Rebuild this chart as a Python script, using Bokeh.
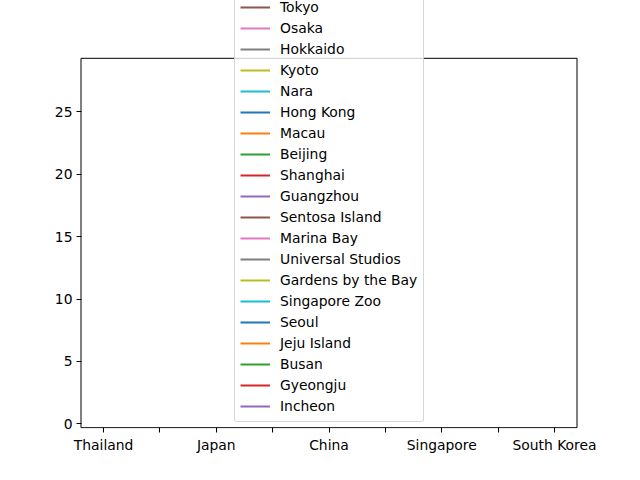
from bokeh.plotting import figure
from bokeh.models import Range1d, FixedTicker, BoxAnnotation
from bokeh.embed import file_html
from bokeh.resources import INLINE

# Countries on the x axis
countries = ["Thailand", "Japan", "China", "Singapore", "South Korea"]

# Places per country (each series has one value only, so no line is drawn)
thailand_places = ["Bangkok", "Phuket", "Chiang Mai", "Pattaya", "Krabi"]
japan_places = ["Tokyo", "Osaka", "Hokkaido", "Kyoto", "Nara"]
china_places = ["Hong Kong", "Macau", "Beijing", "Shanghai", "Guangzhou"]
singapore_places = ["Sentosa Island", "Marina Bay", "Universal Studios",
                    "Gardens by the Bay", "Singapore Zoo"]
korea_places = ["Seoul", "Jeju Island", "Busan", "Gyeongju", "Incheon"]

# Values (not visible in the reference: single points draw nothing)
thailand_values = [22.8, 9.9, 5.1, 9.4, 3.5]
japan_values = [15.2, 11.4, 3.2, 8.9, 2.4]
china_values = [27.9, 18.6, 3.8, 6.1, 8.6]
singapore_values = [19.0, 14.0, 4.5, 9.0, 1.7]
korea_values = [11.2, 1.1, 2.7, 1.5, 7.3]

y_ticks = [0, 5, 10, 15, 20, 25]

# axes limits of the visible box
x_lo, x_hi = -0.2, 4.2
y_lo, y_hi = -0.3, 29.27

tab10 = ["#1f77b4", "#ff7f0e", "#2ca02c", "#d62728", "#9467bd",
         "#8c564b", "#e377c2", "#7f7f7f", "#bcbd22", "#17becf"]

FONT = "DejaVu Sans"
FSIZE = "13.89px"

W, H = 632, 472
FL, FR, FB = 79, 578, 428          # frame edges (canvas px); frame top = 0
px_x = 496 / (x_hi - x_lo)
px_y = 12.492
xs = x_lo - 1.5 / px_x
xe = xs + (FR - FL) / px_x
ys = y_lo - (FB - 427.2) / px_y
ye = y_lo + 427.2 / px_y

p = figure(width=W, height=H, output_backend="svg", toolbar_location=None,
           x_range=Range1d(xs, xe), y_range=Range1d(ys, ye),
           min_border_left=FL, min_border_right=W - FR, min_border_top=0,
           min_border_bottom=H - FB)

groups = [thailand_places, japan_places, china_places, singapore_places, korea_places]
vals = [thailand_values, japan_values, china_values, singapore_values, korea_values]
k = 0
for ci, (places, vs) in enumerate(zip(groups, vals)):
    for name, v in zip(places, vs):
        p.line(x=[ci], y=[v], line_color=tab10[k % 10], line_width=2,
               legend_label=name)
        k += 1

# axes box (spines)
box = BoxAnnotation(left=x_lo, right=x_hi, bottom=y_lo, top=y_hi,
                    fill_alpha=0, line_color="black", line_alpha=1.0,
                    line_width=1, level="underlay")
p.add_layout(box)

p.xgrid.visible = False
p.ygrid.visible = False
p.outline_line_color = None
p.background_fill_color = "white"
p.border_fill_color = "white"

p.xaxis.ticker = FixedTicker(ticks=list(range(len(countries))),
                             minor_ticks=[0.5, 1.5, 2.5, 3.5])
p.xaxis.major_label_overrides = {i: c for i, c in enumerate(countries)}
p.yaxis.ticker = FixedTicker(ticks=y_ticks, minor_ticks=[])

for ax in (p.xaxis[0], p.yaxis[0]):
    ax.axis_line_color = None
    ax.major_tick_line_color = "black"
    ax.minor_tick_line_color = "black"
    ax.major_label_text_font = FONT
    ax.major_label_text_font_size = FSIZE
    ax.major_label_text_color = "black"

xa = p.xaxis[0]
xa.major_tick_in = 1
xa.major_tick_out = 4
xa.minor_tick_in = 1
xa.minor_tick_out = 4
xa.major_label_standoff = 4

ya = p.yaxis[0]
ya.major_tick_in = 2
ya.major_tick_out = 3
ya.major_label_standoff = 4

lg = p.legend[0]
lg.location = (155, 6)
lg.padding = 5
lg.spacing = 1
lg.margin = 0
lg.glyph_width = 30
lg.glyph_height = 20
lg.label_height = 20
lg.label_width = 138
lg.label_standoff = 10
lg.label_text_font = FONT
lg.label_text_font_size = FSIZE
lg.label_text_color = "black"
lg.border_line_color = "#cccccc"
lg.border_line_alpha = 0.8
lg.background_fill_color = "white"
lg.background_fill_alpha = 0.8
if "border_radius" in lg.properties():
    lg.border_radius = 3

open("out.html", "w").write(file_html(p, INLINE))
